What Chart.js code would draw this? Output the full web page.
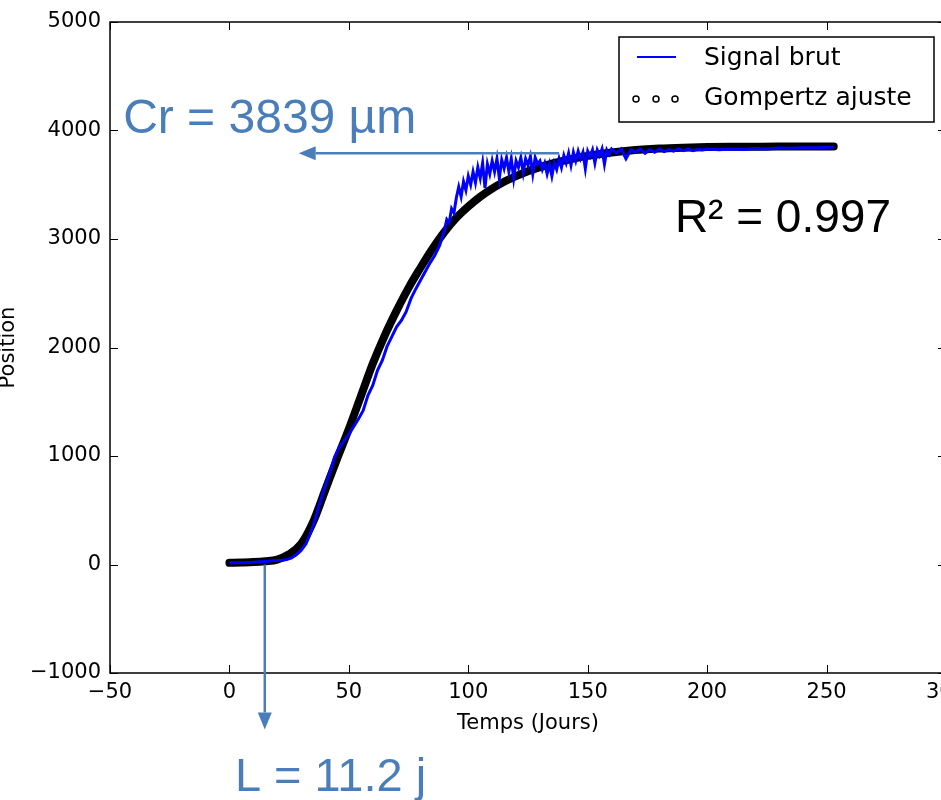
<!DOCTYPE html>
<html>
<head>
    <title>Gompertz ajuste</title>
    <script src="https://cdn.jsdelivr.net/npm/chart.js"></script>
    <style>
        html, body { margin: 0; padding: 0; overflow: hidden; background: #fff; }
        #wrap { width: 980px; height: 800px; }
    </style>
</head>
<body>
    <div id="wrap">
        <canvas id="myChart" width="980" height="800"></canvas>
    </div>

    <script>
        // Gompertz fit (black)
        const fitDays = [0, 5, 10, 15, 20, 25, 30, 35, 40, 45, 50, 55, 60, 65, 70, 75, 80, 85, 90, 95,
                         100, 105, 110, 115, 120, 125, 130, 135, 140, 145, 150, 160, 170, 180, 190, 200,
                         210, 220, 230, 240, 253];
        const fitPos = [15, 18, 22, 30, 45, 95, 190, 390, 680, 970, 1250, 1550, 1850, 2110, 2340, 2550,
                        2735, 2910, 3065, 3195, 3300, 3390, 3465, 3528, 3580, 3625, 3662, 3695, 3722,
                        3746, 3766, 3798, 3820, 3834, 3842, 3847, 3850, 3851, 3852, 3852, 3852];

        // raw signal (blue)
        const rawDays = [0, 2, 4, 6, 8, 10, 12, 14, 16, 18, 20, 22, 24, 26, 28, 30, 32, 34, 36, 38,
                         40, 42, 44, 46, 48, 50, 52, 54, 56, 58, 60, 62, 64, 66, 68, 70, 72, 74, 76, 78,
                         80, 82, 84, 86, 88,
                         90, 91, 92, 93, 94, 95, 96, 97, 98, 99, 100, 101, 102, 103, 104, 105, 106, 107,
                         108, 109, 110, 111, 112, 113, 114, 115, 116, 117, 118, 119, 120, 121, 122, 123,
                         124, 125, 126, 127, 128, 129, 130, 131, 132, 133, 134, 135, 136, 137, 138, 139,
                         140, 141, 142, 143, 144, 145, 146, 147, 148, 149, 150, 151, 152, 153, 154, 155,
                         156, 157, 158, 159, 160,
                         162, 164, 166, 168, 170, 172, 174, 176, 178, 180, 182, 184, 186, 188, 190, 192,
                         194, 196, 198, 200,
                         205, 210, 215, 220, 225, 230, 235, 240, 245, 250, 253];
        const rawPos = [15, 15, 16, 17, 19, 21, 24, 27, 30, 34, 36, 40, 45, 60, 90, 130, 190, 290, 420, 580,
                        720, 840, 990, 1080, 1140, 1200, 1270, 1340, 1420, 1560, 1650, 1790, 1880, 2010, 2100, 2190, 2250, 2330, 2450, 2540,
                        2620, 2700, 2780, 2850, 2940,
                        3080, 3180, 3150, 3280, 3240, 3380, 3480, 3390, 3530, 3450, 3580, 3500, 3620, 3520, 3660, 3560, 3700, 3470,
                        3690, 3600, 3720, 3620, 3740, 3560, 3730, 3650, 3750, 3620, 3740, 3560, 3720, 3660, 3750, 3610,
                        3740, 3680, 3760, 3600, 3750, 3690, 3720, 3640, 3700, 3600, 3690, 3580, 3700, 3640, 3740, 3660,
                        3770, 3700, 3790, 3680, 3800, 3720, 3810, 3740, 3800, 3650, 3810, 3760, 3820, 3700, 3820, 3770,
                        3830, 3690, 3820, 3780, 3830,
                        3790, 3830, 3740, 3820, 3800, 3830, 3790, 3825, 3800, 3830, 3805, 3825, 3810, 3830, 3815, 3830,
                        3815, 3825, 3820, 3830,
                        3822, 3830, 3826, 3833, 3830, 3838, 3836, 3842, 3840, 3845, 3845];

        const seriesLabels = ['Signal brut', 'Gompertz ajuste'];
        const xLabel = 'Temps (Jours)';
        const yLabel = 'Position';

        // annotations (data units)
        const crArrow = { y: 3790, fromX: 138, toX: 29 };
        const lArrow = { x: 14.8, fromY: 0, toY: -1520 };
        const notes = [
            { text: 'Cr = 3839 \u00b5m', x: -44.5, y: 3975, color: '#4a7ebb', size: 48 },
            { text: 'R\u00b2 = 0.997', x: 186.5, y: 3069, color: '#000000', size: 46 },
            { text: 'L = 11.2 j', x: 2.3, y: -2090, color: '#4a7ebb', size: 47 }
        ];

        const toPoints = (xs, ys) => xs.map((v, i) => ({ x: v, y: ys[i] }));
        const minus = v => String(v).replace('-', '\u2212');
        const tickFont = { family: 'DejaVu Sans', size: 21 };

        function arrow(ctx, x0, y0, x1, y1) {
            const ang = Math.atan2(y1 - y0, x1 - x0);
            const len = 17, half = 7;
            const bx = x1 - len * Math.cos(ang), by = y1 - len * Math.sin(ang);
            ctx.beginPath();
            ctx.moveTo(x0, y0);
            ctx.lineTo(bx, by);
            ctx.stroke();
            ctx.beginPath();
            ctx.moveTo(x1, y1);
            ctx.lineTo(bx + half * Math.sin(ang), by - half * Math.cos(ang));
            ctx.lineTo(bx - half * Math.sin(ang), by + half * Math.cos(ang));
            ctx.closePath();
            ctx.fill();
        }

        const frameAndNotes = {
            id: 'frameAndNotes',
            afterDraw(chart) {
                const { ctx, chartArea: a, scales: { x, y } } = chart;
                ctx.save();

                // inward ticks on all four sides
                ctx.strokeStyle = '#000';
                ctx.lineWidth = 1;
                ctx.beginPath();
                x.ticks.forEach(t => {
                    const px = Math.round(x.getPixelForValue(t.value)) + 0.5;
                    ctx.moveTo(px, a.bottom); ctx.lineTo(px, a.bottom - 8);
                    ctx.moveTo(px, a.top); ctx.lineTo(px, a.top + 8);
                });
                y.ticks.forEach(t => {
                    const py = Math.round(y.getPixelForValue(t.value)) + 0.5;
                    ctx.moveTo(a.left, py); ctx.lineTo(a.left + 8, py);
                    ctx.moveTo(a.right, py); ctx.lineTo(a.right - 8, py);
                });
                ctx.stroke();

                // frame
                ctx.lineWidth = 1.5;
                ctx.strokeRect(a.left, a.top, a.right - a.left, a.bottom - a.top);

                // legend
                const lx = a.right - 327, ly = a.top + 15;
                ctx.fillStyle = '#fff';
                ctx.fillRect(lx, ly, 315, 85);
                ctx.strokeStyle = '#000';
                ctx.lineWidth = 1.5;
                ctx.strokeRect(lx, ly, 315, 85);
                ctx.strokeStyle = '#0000ff';
                ctx.lineWidth = 2;
                ctx.beginPath();
                ctx.moveTo(lx + 18, ly + 20); ctx.lineTo(lx + 57, ly + 20);
                ctx.stroke();
                ctx.strokeStyle = '#000';
                ctx.fillStyle = '#fff';
                ctx.lineWidth = 1.5;
                [17, 37, 56].forEach(dx => {
                    ctx.beginPath();
                    ctx.arc(lx + dx, ly + 62, 3, 0, Math.PI * 2);
                    ctx.fill();
                    ctx.stroke();
                });
                ctx.fillStyle = '#000';
                ctx.font = '25px "DejaVu Sans"';
                ctx.textBaseline = 'alphabetic';
                ctx.textAlign = 'left';
                ctx.fillText(seriesLabels[0], lx + 85, ly + 28);
                ctx.fillText(seriesLabels[1], lx + 85, ly + 68);

                // arrows
                ctx.strokeStyle = '#4a7ebb';
                ctx.fillStyle = '#4a7ebb';
                ctx.lineWidth = 2.5;
                arrow(ctx, x.getPixelForValue(crArrow.fromX), y.getPixelForValue(crArrow.y),
                      x.getPixelForValue(crArrow.toX), y.getPixelForValue(crArrow.y));
                arrow(ctx, x.getPixelForValue(lArrow.x), y.getPixelForValue(lArrow.fromY),
                      x.getPixelForValue(lArrow.x), y.getPixelForValue(lArrow.toY));

                // text notes
                notes.forEach(n => {
                    ctx.fillStyle = n.color;
                    ctx.font = n.size + 'px "Liberation Sans"';
                    ctx.fillText(n.text, x.getPixelForValue(n.x), y.getPixelForValue(n.y));
                });
                ctx.restore();
            }
        };

        const ctx = document.getElementById('myChart').getContext('2d');
        new Chart(ctx, {
            type: 'line',
            data: {
                datasets: [{
                    label: seriesLabels[0],
                    data: toPoints(rawDays, rawPos),
                    borderColor: '#0000ff',
                    borderWidth: 3,
                    pointRadius: 0,
                    tension: 0,
                    order: 0
                }, {
                    label: seriesLabels[1],
                    data: toPoints(fitDays, fitPos),
                    borderColor: '#000000',
                    borderWidth: 8,
                    borderCapStyle: 'round',
                    borderJoinStyle: 'round',
                    pointRadius: 0,
                    cubicInterpolationMode: 'monotone',
                    order: 1
                }]
            },
            options: {
                responsive: false,
                animation: false,
                events: [],
                layout: { padding: { top: 22, right: 34, bottom: 60, left: 0 } },
                plugins: { legend: { display: false }, tooltip: { enabled: false } },
                scales: {
                    x: {
                        type: 'linear',
                        position: 'bottom',
                        min: -50, max: 300,
                        grid: { display: false, drawTicks: false },
                        border: { display: false },
                        ticks: { stepSize: 50, color: '#000', font: tickFont, padding: 7,
                                 maxRotation: 0, autoSkip: false, callback: v => minus(v) },
                        title: { display: true, text: xLabel, color: '#000',
                                 font: { family: 'DejaVu Sans', size: 21 }, padding: { top: 0, bottom: 4 } },
                        afterFit: s => { s.height = 67; }
                    },
                    y: {
                        type: 'linear',
                        min: -1000, max: 5000,
                        grid: { display: false, drawTicks: false },
                        border: { display: false },
                        ticks: { stepSize: 1000, color: '#000', font: tickFont, padding: 9,
                                 callback: v => minus(v) },
                        title: { display: true, text: yLabel, color: '#000',
                                 font: { family: 'DejaVu Sans', size: 21, lineHeight: 0.8 }, padding: 0 },
                        afterFit: s => { s.width = 110; }
                    }
                }
            },
            plugins: [frameAndNotes]
        });
    </script>
</body>
</html>
